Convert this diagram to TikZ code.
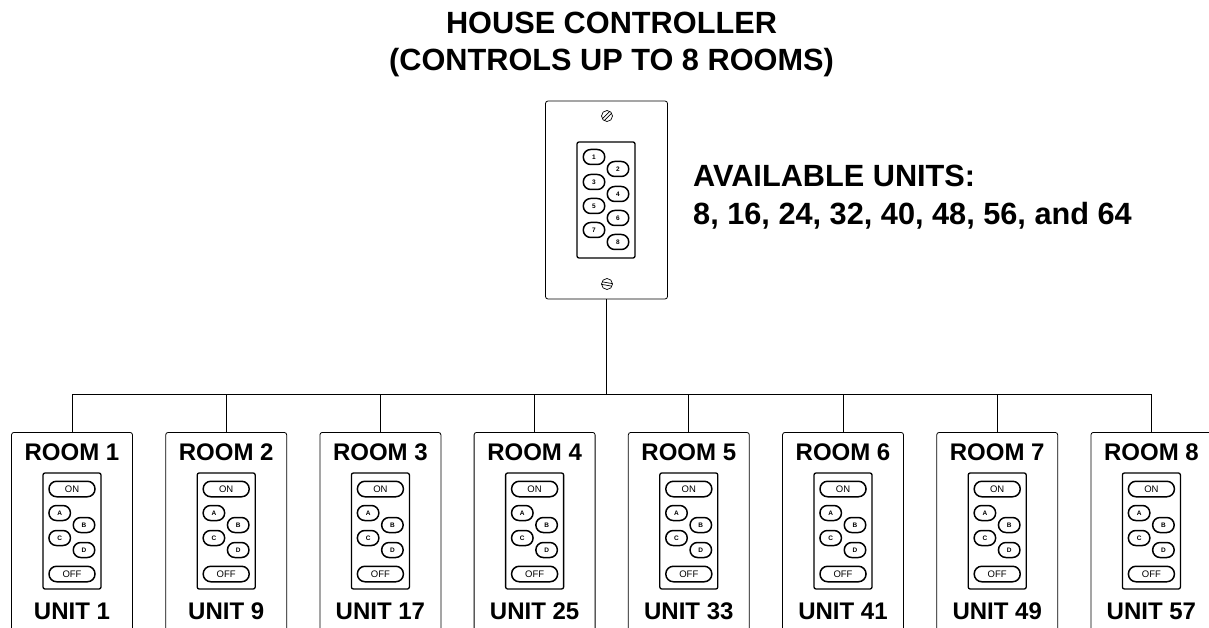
\documentclass[tikz,border=0pt]{standalone}
\usepackage{fontspec}
\setmainfont{Liberation Sans}
\usetikzlibrary{calc}
\def\screw(#1)(#2){\draw[screwline] (#1) circle (5.5); \draw[screwline,rotate around={#2:(#1)}] ($(#1)+(-5.2,-1.3)$) -- ($(#1)+(5.2,-1.3)$) ($(#1)+(-5.2,1.3)$) -- ($(#1)+(5.2,1.3)$);}
\tikzset{
	titletext/.style={font=\fontsize{30.7}{36.5}\selectfont\bfseries, inner sep=0},
	bigtext/.style={font=\fontsize{24}{33}\selectfont\bfseries, inner sep=0},
	plate/.style={draw, line width=0.8pt, rounded corners=2.5pt, inner sep=0},
	keypad/.style={draw, line width=1.3pt, rounded corners=2pt, minimum width=58, minimum height=116, inner sep=0},
	keybtn/.style={draw, line width=1.5pt, rounded corners=7.4pt, minimum width=21.5, minimum height=15, inner sep=0, font=\fontsize{6.5}{7}\selectfont\bfseries},
	widebtn/.style={draw, line width=1.5pt, rounded corners=7.6pt, minimum width=46, minimum height=15.5, inner sep=0, font=\fontsize{9.5}{10}\selectfont},
	screwline/.style={line width=0.7pt},
	wire/.style={line width=0.8pt},
}
\begin{document}
\begin{tikzpicture}[x=1pt, y=-1pt]
	\useasboundingbox (0, 0) rectangle (1209, 628);
	\clip (0, 0) rectangle (1209, 628);
	
	%%%%% HOUSE CONTROLLER %%%%%
	\node[titletext, align=center] (title) at (611.5, 44.5) {HOUSE CONTROLLER\\(CONTROLS UP TO 8 ROOMS)};
	\node[plate, minimum width=122, minimum height=198] (house) at (606.5, 200) {};
	\node[keypad] (housepad) at (606, 200) {};
	\foreach \num/\px/\py in {1/594/157, 2/618/169, 3/594/182, 4/618/194, 5/594/206, 6/618/218, 7/594/230, 8/618/242}
		\node[keybtn] (housebtn\num) at (\px, \py) {\num};
	\screw(607, 116)(45)
	\screw(607, 284)(-10)
	
	\node[titletext, align=left, anchor=west] (units) at (693, 197.5) {AVAILABLE UNITS:\\[1.5pt]8, 16, 24, 32, 40, 48, 56, and 64};
	
	%%%%% ROOMS %%%%%
	\coordinate (busleft) at (72, 394);
	\coordinate (busright) at (1151.4, 394);
	\coordinate (busmid) at (606.5, 394);
	\draw[wire] (house.south) -- (busmid);
	\draw[wire] (busleft) -- (busright);
	
	\foreach \i in {1,...,8} {
		\pgfmathsetmacro{\cx}{72+154.2*(\i-1)}
		\pgfmathtruncatemacro{\unit}{8*\i-7}
		\node[plate, minimum width=121, minimum height=230, anchor=north] (room\i) at (\cx, 432) {};
		\coordinate (bus\i) at (\cx, 394);
		\draw[wire] (bus\i) -- (room\i.north);
		\node[bigtext] (roomlabel\i) at (\cx, 452) {ROOM \i};
		\node[bigtext] (unitlabel\i) at (\cx, 611) {UNIT \unit};
		\node[keypad] (roompad\i) at (\cx, 531) {};
		\node[widebtn] (on\i) at (\cx, 489) {ON};
		\node[keybtn] (a\i) at ({\cx-12.3}, 513) {A};
		\node[keybtn] (b\i) at ({\cx+12}, 525) {B};
		\node[keybtn] (c\i) at ({\cx-12.3}, 538) {C};
		\node[keybtn] (d\i) at ({\cx+12}, 550) {D};
		\node[widebtn] (off\i) at (\cx, 574) {OFF};
	}
\end{tikzpicture}
\end{document}
